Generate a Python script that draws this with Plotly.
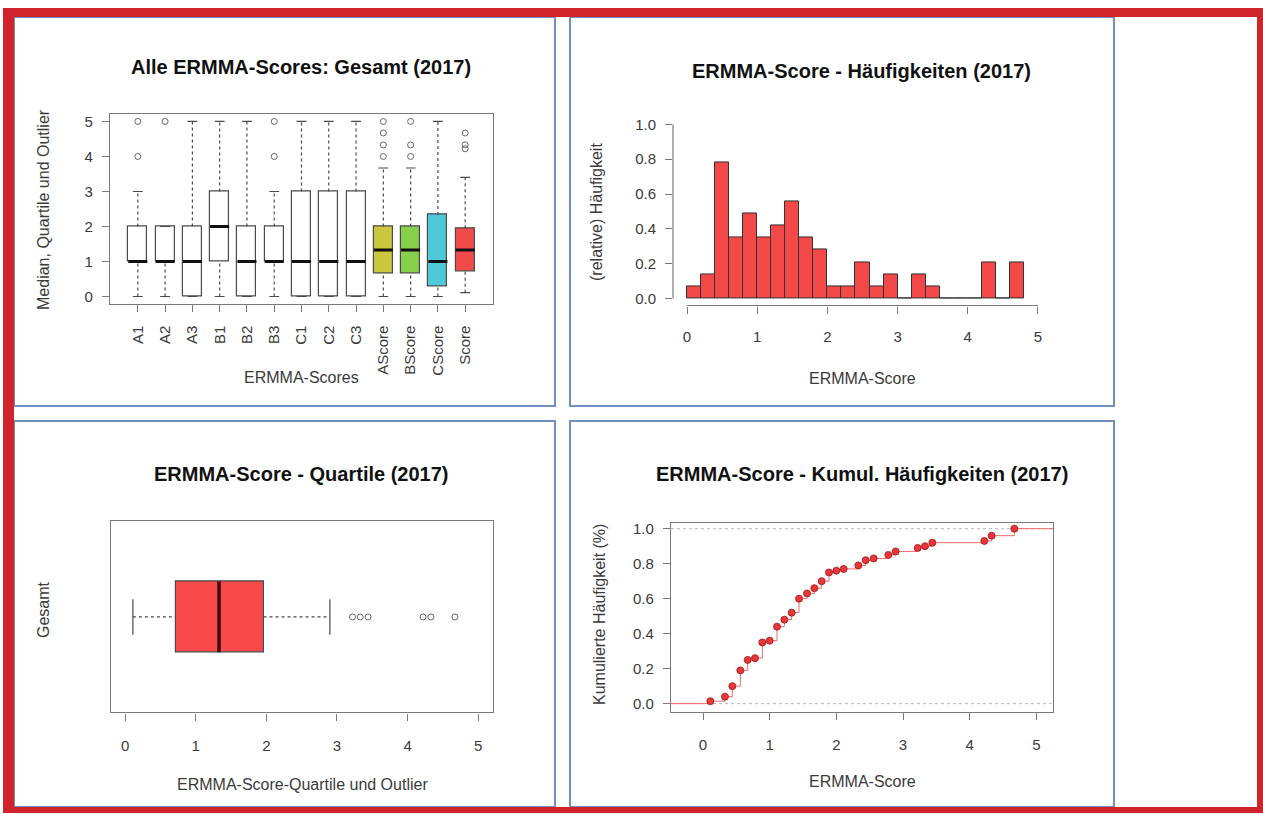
import plotly.graph_objects as go

W, H = 1263, 814

# ---------------- Data ----------------
# Panel 1: Alle ERMMA-Scores (box statistics)
box_cats = ["A1", "A2", "A3", "B1", "B2", "B3", "C1", "C2", "C3",
            "AScore", "BScore", "CScore", "Score"]
box_q1 = [1, 1, 0, 1, 0, 1, 0, 0, 0, 0.67, 0.67, 0.3, 0.72]
box_med = [1, 1, 1, 2, 1, 1, 1, 1, 1, 1.33, 1.33, 1, 1.33]
box_q3 = [2, 2, 2, 3, 2, 2, 3, 3, 3, 2, 2, 2.33, 1.95]
box_lo = [0, 0, 0, 0, 0, 0, 0, 0, 0, 0, 0, 0, 0.11]
box_hi = [3, 2, 5, 5, 5, 3, 5, 5, 5, 3.67, 3.67, 5, 3.4]
box_out = [[4, 5], [5], [], [], [], [4, 5], [], [], [],
           [4, 4.33, 4.67, 5], [4, 4.33, 5], [], [4.22, 4.33, 4.67]]
box_colors = ["white"] * 9 + ["#c9c83f", "#86d04c", "#4fc9d9", "#f04a4a"]

# Panel 2: histogram (relative frequencies, bin width 0.2)
hist_left = [0.0, 0.2, 0.4, 0.6, 0.8, 1.0, 1.2, 1.4, 1.6, 1.8, 2.0, 2.2,
             2.4, 2.6, 2.8, 3.0, 3.2, 3.4, 3.6, 3.8, 4.0, 4.2, 4.4, 4.6]
hist_dens = [0.07, 0.14, 0.78, 0.35, 0.49, 0.35, 0.42, 0.56, 0.35, 0.28, 0.07, 0.07,
             0.21, 0.07, 0.14, 0.0, 0.14, 0.07, 0.0, 0.0, 0.0, 0.21, 0.0, 0.21]
hist_width = 0.2

# Panel 3: Score quartiles (horizontal box)
score_q1, score_med, score_q3 = 0.72, 1.33, 1.96
score_lo, score_hi = 0.11, 2.9
score_out = [3.22, 3.33, 3.44, 4.22, 4.33, 4.67]

# Panel 4: ECDF
ecdf_x = [0.11, 0.33, 0.44, 0.56, 0.67, 0.78, 0.89, 1.0, 1.11, 1.22, 1.33, 1.44, 1.56,
          1.67, 1.78, 1.89, 2.0, 2.11, 2.33, 2.44, 2.56, 2.78, 2.89, 3.22, 3.33, 3.44,
          4.22, 4.33, 4.67]
ecdf_y = [0.014, 0.04, 0.10, 0.19, 0.25, 0.26, 0.35, 0.36, 0.44, 0.48, 0.52, 0.60, 0.63,
          0.66, 0.70, 0.75, 0.76, 0.77, 0.79, 0.82, 0.83, 0.85, 0.87, 0.89, 0.90, 0.92,
          0.93, 0.96, 1.0]

# ---------------- Styling helpers ----------------
FONT = "Liberation Sans, Arial, sans-serif"
TXT = "#3a3a3a"
FRAME = "#7a7a7a"
BOXLINE = "#4a4a4a"
RED_BORDER = "#d1232b"
PANEL_LINE = "#6f8fbf"
TITLE_SIZE = 20
LABEL_SIZE = 16
TICK_SIZE = 15


def px_x(p):
    return p / W


def px_y(p):
    return 1 - p / H


fig = go.Figure()

# ---------------- Panel 1 ----------------
pos = list(range(1, len(box_cats) + 1))
bw = 0.7
cap = 0.18
fig.add_trace(go.Bar(x=pos, y=[q3 - q1 for q1, q3 in zip(box_q1, box_q3)], base=box_q1,
                     width=bw, marker=dict(color=box_colors, line=dict(color=BOXLINE, width=1.2)),
                     xaxis="x", yaxis="y", showlegend=False, hoverinfo="skip"))
wx, wy, cx, cy, mx, my, ox, oy = [], [], [], [], [], [], [], []
for p, q1, m, q3, lo, hi, outs in zip(pos, box_q1, box_med, box_q3, box_lo, box_hi, box_out):
    if lo < q1:
        wx += [p, p, None]; wy += [lo, q1, None]
    if hi > q3:
        wx += [p, p, None]; wy += [q3, hi, None]
    cx += [p - cap, p + cap, None, p - cap, p + cap, None]
    cy += [lo, lo, None, hi, hi, None]
    mx += [p - bw / 2, p + bw / 2, None]; my += [m, m, None]
    ox += [p] * len(outs); oy += outs
fig.add_trace(go.Scatter(x=wx, y=wy, mode="lines", line=dict(color=BOXLINE, width=1.2, dash="dot"),
                         xaxis="x", yaxis="y", showlegend=False, hoverinfo="skip"))
fig.add_trace(go.Scatter(x=cx, y=cy, mode="lines", line=dict(color=BOXLINE, width=1.2),
                         xaxis="x", yaxis="y", showlegend=False, hoverinfo="skip"))
fig.add_trace(go.Scatter(x=mx, y=my, mode="lines", line=dict(color="#111", width=3),
                         xaxis="x", yaxis="y", showlegend=False, hoverinfo="skip"))
fig.add_trace(go.Scatter(x=ox, y=oy, mode="markers",
                         marker=dict(symbol="circle-open", size=6, color="#666", line=dict(width=1)),
                         xaxis="x", yaxis="y", showlegend=False, hoverinfo="skip"))

# ---------------- Panel 2 ----------------
hist_centers = [l + hist_width / 2 for l in hist_left]
fig.add_trace(go.Bar(x=hist_centers, y=hist_dens, width=hist_width,
                     marker=dict(color="#f24848", line=dict(color="#333", width=1)),
                     xaxis="x2", yaxis="y2", showlegend=False, hoverinfo="skip"))

# ---------------- Panel 3 ----------------
fig.add_trace(go.Bar(y=[1], x=[score_q3 - score_q1], base=[score_q1], orientation="h", width=0.4,
                     marker=dict(color="#f84a4a", line=dict(color=BOXLINE, width=1.2)),
                     xaxis="x3", yaxis="y3", showlegend=False, hoverinfo="skip"))
fig.add_trace(go.Scatter(x=[score_lo, score_q1, None, score_q3, score_hi], y=[1, 1, None, 1, 1],
                         mode="lines", line=dict(color=BOXLINE, width=1.2, dash="dot"),
                         xaxis="x3", yaxis="y3", showlegend=False, hoverinfo="skip"))
fig.add_trace(go.Scatter(x=[score_lo, score_lo, None, score_hi, score_hi],
                         y=[0.9, 1.1, None, 0.9, 1.1], mode="lines",
                         line=dict(color=BOXLINE, width=1.2),
                         xaxis="x3", yaxis="y3", showlegend=False, hoverinfo="skip"))
fig.add_trace(go.Scatter(x=[score_med, score_med], y=[0.8, 1.2], mode="lines",
                         line=dict(color="#3a0a0a", width=3.5),
                         xaxis="x3", yaxis="y3", showlegend=False, hoverinfo="skip"))
fig.add_trace(go.Scatter(x=score_out, y=[1] * len(score_out), mode="markers",
                         marker=dict(symbol="circle-open", size=6, color="#666", line=dict(width=1)),
                         xaxis="x3", yaxis="y3", showlegend=False, hoverinfo="skip"))

# ---------------- Panel 4 ----------------
x4_range = [-0.48, 5.25]
fig.add_trace(go.Scatter(x=[x4_range[0]] + ecdf_x + [x4_range[1]], y=[0] + ecdf_y + [1],
                         mode="lines", line=dict(color="#f06a6a", width=1, shape="hv"),
                         xaxis="x4", yaxis="y4", showlegend=False, hoverinfo="skip"))
fig.add_trace(go.Scatter(x=ecdf_x, y=ecdf_y, mode="markers",
                         marker=dict(size=7, color="#e8363a", line=dict(color="#a01818", width=0.8)),
                         xaxis="x4", yaxis="y4", showlegend=False, hoverinfo="skip"))

# ---------------- Axes ----------------
tickfont = dict(family=FONT, size=TICK_SIZE, color=TXT)
common = dict(showgrid=False, zeroline=False, ticks="outside", ticklen=7, tickcolor=FRAME,
              tickfont=tickfont, linecolor=FRAME, linewidth=1.2)

layout = dict(
    xaxis=dict(domain=[px_x(110), px_x(493)], range=[-0.02, len(box_cats) + 1.02],
               tickvals=pos, ticktext=box_cats, tickangle=-90, showline=True, mirror=True,
               anchor="y", ticklabelstandoff=8, **common),
    yaxis=dict(domain=[px_y(302), px_y(112)], range=[-0.2, 5.2], tickvals=[0, 1, 2, 3, 4, 5],
               showline=True, mirror=True, anchor="x", ticklabelstandoff=6, **common),
    xaxis2=dict(domain=[px_x(673), px_x(1052)], range=[-0.2, 5.2], tickvals=[0, 1, 2, 3, 4, 5],
                showline=False, anchor="y2", ticklabelstandoff=10, **common),
    yaxis2=dict(domain=[px_y(304), px_y(115)], range=[-0.04, 1.04],
                tickvals=[0, 0.2, 0.4, 0.6, 0.8, 1.0], tickformat=".1f",
                showline=False, anchor="x2", ticklabelstandoff=6, **common),
    xaxis3=dict(domain=[px_x(111), px_x(493)], range=[-0.2, 5.21], tickvals=[0, 1, 2, 3, 4, 5],
                showline=True, mirror=True, anchor="y3", ticklabelstandoff=12, **common),
    yaxis3=dict(domain=[px_y(713), px_y(521)], range=[0.46, 1.54], showticklabels=False,
                showgrid=False, zeroline=False, ticks="", showline=True, mirror=True,
                linecolor=FRAME, linewidth=1.2, anchor="x3"),
    xaxis4=dict(domain=[px_x(671), px_x(1053)], range=x4_range, tickvals=[0, 1, 2, 3, 4, 5],
                showline=True, mirror=True, anchor="y4", ticklabelstandoff=12, **common),
    yaxis4=dict(domain=[px_y(712), px_y(523)], range=[-0.045, 1.03],
                tickvals=[0, 0.2, 0.4, 0.6, 0.8, 1.0], tickformat=".1f",
                showline=True, mirror=True, anchor="x4", ticklabelstandoff=6, **common),
)

shapes = []
# panel frames (blue-grey)
for x0, y0, x1, y1 in [(14, 14, 555, 405), (570, 14, 1114, 405),
                       (14, 420, 555, 808), (570, 420, 1114, 808)]:
    shapes.append(dict(type="rect", xref="paper", yref="paper", x0=px_x(x0), x1=px_x(x1),
                       y0=px_y(y1), y1=px_y(y0), line=dict(color=PANEL_LINE, width=2),
                       fillcolor="rgba(0,0,0,0)", layer="below"))
# histogram axis lines (R style, only across tick range)
shapes.append(dict(type="line", xref="x2", yref="y2 domain", x0=0, x1=5, y0=0, y1=0,
                   line=dict(color=FRAME, width=1.2)))
shapes.append(dict(type="line", xref="x2 domain", yref="y2", x0=0, x1=0, y0=0, y1=1,
                   line=dict(color=FRAME, width=1.2)))
# ECDF reference lines
for yv in [0, 1]:
    shapes.append(dict(type="line", xref="x4 domain", yref="y4", x0=0, x1=1, y0=yv, y1=yv,
                       line=dict(color="#b8b8b8", width=1, dash="dot"), layer="below"))
# red outer border
for x0, y0, x1, y1 in [(3, 5, 1263, 14), (3, 5, 14, 814), (1257, 5, 1263, 814), (3, 808, 1263, 814)]:
    shapes.append(dict(type="rect", xref="paper", yref="paper", x0=px_x(x0), x1=px_x(x1),
                       y0=px_y(y1), y1=px_y(y0), line=dict(width=0), fillcolor=RED_BORDER))

annotations = []


def text(x, y, s, size=LABEL_SIZE, bold=False, angle=0):
    annotations.append(dict(xref="paper", yref="paper", x=px_x(x), y=px_y(y), text=s,
                            showarrow=False, textangle=angle, xanchor="center", yanchor="middle",
                            font=dict(family=FONT, size=size, color="#111" if bold else TXT,
                                      weight="bold" if bold else "normal")))


text(301, 64, "Alle ERMMA-Scores: Gesamt (2017)", TITLE_SIZE, True)
text(44, 208, "Median, Quartile und Outlier", angle=-90)
text(301, 376, "ERMMA-Scores")
text(861, 68, "ERMMA-Score - Häufigkeiten (2017)", TITLE_SIZE, True)
text(597, 210, "(relative) Häufigkeit", angle=-90)
text(862, 377, "ERMMA-Score")
text(301, 473, "ERMMA-Score - Quartile (2017)", TITLE_SIZE, True)
text(43, 610, "Gesamt", angle=-90)
text(302, 785, "ERMMA-Score-Quartile und Outlier")
text(862, 473, "ERMMA-Score - Kumul. Häufigkeiten (2017)", TITLE_SIZE, True)
text(600, 615, "Kumulierte Häufigkeit (%)", angle=-90)
text(862, 782, "ERMMA-Score")

fig.update_layout(width=W, height=H, margin=dict(l=0, r=0, t=0, b=0),
                  paper_bgcolor="white", plot_bgcolor="white", shapes=shapes,
                  annotations=annotations, bargap=0, **layout)

fig.write_html("out.html", config={"displayModeBar": False},
               post_script="document.body.style.margin='0';document.body.style.overflow='hidden';")
